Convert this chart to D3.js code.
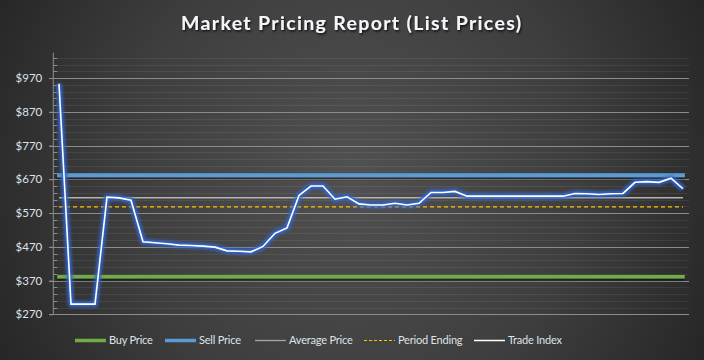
<!DOCTYPE html>
<html>
<head>
<meta charset="utf-8">
<script src="https://cdnjs.cloudflare.com/ajax/libs/d3/7.8.5/d3.min.js"></script>
<style>
  html, body { margin: 0; padding: 0; background: #333; }
  svg { display: block; }
</style>
</head>
<body>
<svg id="chart" width="704" height="360"></svg>
<script>
// ---------------- data ----------------
const title = "Market Pricing Report (List Prices)";
const tradeIndex = [953, 300, 300, 300, 617, 615, 608, 485, 482, 479,
                    475, 474, 472, 469, 458, 457, 455, 471, 510, 526,
                    622, 650, 650, 611, 618, 597, 594, 594, 599, 594,
                    599, 631, 631, 634, 620, 620, 620, 620, 620, 620,
                    620, 620, 620, 628, 627, 625, 627, 628, 661, 663,
                    661, 673, 642];
const buyPrice = 381;
const sellPrice = 682;
const averagePrice = 615;
const periodEnding = 588;
const yMajorTicks = [270, 370, 470, 570, 670, 770, 870, 970];
const yTickLabels = ["$270", "$370", "$470", "$570", "$670", "$770", "$870", "$970"];
const yDomain = [270, 1045];
const legendLabels = ["Buy Price", "Sell Price", "Average Price", "Period Ending", "Trade Index"];

// ---------------- layout ----------------
const W = 704, H = 360;
const svg = d3.select("#chart");
const defs = svg.append("defs");

const bg = defs.append("radialGradient").attr("id", "bg")
  .attr("gradientUnits", "userSpaceOnUse")
  .attr("cx", 352).attr("cy", 175).attr("r", 420);
bg.append("stop").attr("offset", 0).attr("stop-color", "#515151");
bg.append("stop").attr("offset", 0.55).attr("stop-color", "#3e3e3e");
bg.append("stop").attr("offset", 1).attr("stop-color", "#232323");

const glow = defs.append("filter").attr("id", "glow")
  .attr("filterUnits", "userSpaceOnUse")
  .attr("x", 0).attr("y", 0).attr("width", W).attr("height", H);
glow.append("feGaussianBlur").attr("stdDeviation", 1.6);

const shadow = defs.append("filter").attr("id", "shadow")
  .attr("filterUnits", "userSpaceOnUse")
  .attr("x", 0).attr("y", 0).attr("width", W).attr("height", H);
shadow.append("feDropShadow").attr("dx", 0).attr("dy", 2).attr("stdDeviation", 1)
  .attr("flood-color", "#000").attr("flood-opacity", 0.55);

const tshadow = defs.append("filter").attr("id", "tshadow")
  .attr("filterUnits", "userSpaceOnUse")
  .attr("x", 0).attr("y", 0).attr("width", W).attr("height", 60);
tshadow.append("feDropShadow").attr("dx", 1).attr("dy", 1.5).attr("stdDeviation", 0.8)
  .attr("flood-color", "#000").attr("flood-opacity", 0.8);

svg.append("rect").attr("width", W).attr("height", H).attr("fill", "url(#bg)");

const font = "Lato, 'Open Sans', sans-serif";

// title
svg.append("text")
  .attr("x", 351).attr("y", 30)
  .attr("text-anchor", "middle")
  .attr("font-family", font).attr("font-weight", "bold").attr("font-size", 19.5)
  .attr("fill", "#f4f6fa")
  .attr("textLength", 340).attr("lengthAdjust", "spacing")
  .attr("filter", "url(#tshadow)")
  .text(title);

// scales
const x = d3.scaleLinear().domain([0, tradeIndex.length - 1]).range([59, 683]);
const y = d3.scaleLinear().domain(yDomain).range([314.3, 52.7]);
const plotLeft = 53.3, plotRight = 689;

// minor gridlines
const minorTicks = d3.range(yDomain[0], yDomain[1], 20).filter(v => (v - 270) % 100 !== 0);
svg.append("g").selectAll("line").data(minorTicks).join("line")
  .attr("x1", plotLeft).attr("x2", plotRight)
  .attr("y1", d => Math.round(y(d)) + 0.5).attr("y2", d => Math.round(y(d)) + 0.5)
  .attr("stroke", "#ffffff").attr("stroke-opacity", 0.07).attr("stroke-width", 1);

// major gridlines
svg.append("g").selectAll("line").data(yMajorTicks.slice(1)).join("line")
  .attr("x1", 49).attr("x2", plotRight)
  .attr("y1", d => Math.round(y(d)) + 0.5).attr("y2", d => Math.round(y(d)) + 0.5)
  .attr("stroke", "#8c8c8c").attr("stroke-width", 1);

// y axis (minor ticks inside)
const yAxisG = svg.append("g").attr("transform", `translate(${plotLeft},0)`);
yAxisG.append("line")
  .attr("x1", 0).attr("x2", 0).attr("y1", y(yDomain[1])).attr("y2", y(yDomain[0]))
  .attr("stroke", "#8c8c8c");
yAxisG.selectAll("line.minor").data(minorTicks).join("line").attr("class", "minor")
  .attr("x1", 0).attr("x2", 4)
  .attr("y1", d => Math.round(y(d)) + 0.5).attr("y2", d => Math.round(y(d)) + 0.5)
  .attr("stroke", "#8c8c8c");

const yAxis = d3.axisLeft(y).tickValues(yMajorTicks)
  .tickFormat((d, i) => yTickLabels[i]).tickSize(4).tickPadding(7);
const yAx = svg.append("g").attr("transform", `translate(${plotLeft},0)`).call(yAxis);
yAx.select(".domain").remove();
yAx.selectAll(".tick line").attr("stroke", "#8c8c8c");
yAx.selectAll(".tick text").attr("fill", "#dde3ea")
  .attr("font-family", font).attr("font-size", 11.5);

// x axis line
svg.append("line")
  .attr("x1", 49).attr("x2", plotRight)
  .attr("y1", 314.5).attr("y2", 314.5)
  .attr("stroke", "#8c8c8c");

// horizontal reference series
const idx = d3.range(tradeIndex.length);
const flatLine = v => d3.line().x(i => x(i)).y(() => y(v))(idx);

svg.append("path").attr("d", flatLine(periodEnding))
  .attr("fill", "none").attr("stroke", "#ffc000").attr("stroke-width", 1.3)
  .attr("stroke-dasharray", "4,3");
svg.append("path").attr("d", flatLine(averagePrice))
  .attr("fill", "none").attr("stroke", "#b4b4b4").attr("stroke-width", 1.5);
svg.append("path").attr("d", flatLine(buyPrice))
  .attr("fill", "none").attr("stroke", "#70ad47").attr("stroke-width", 3.5)
  .attr("stroke-linecap", "square").attr("filter", "url(#shadow)");
svg.append("path").attr("d", flatLine(sellPrice))
  .attr("fill", "none").attr("stroke", "#5b9bd5").attr("stroke-width", 3.8)
  .attr("stroke-linecap", "square").attr("filter", "url(#shadow)");

// trade index with glow
const tradeLine = d3.line().x((d, i) => x(i)).y(d => y(d));
svg.append("path").attr("d", tradeLine(tradeIndex))
  .attr("fill", "none").attr("stroke", "#2f66d0").attr("stroke-width", 6)
  .attr("stroke-linejoin", "round").attr("stroke-opacity", 0.95)
  .attr("filter", "url(#glow)");
svg.append("path").attr("d", tradeLine(tradeIndex))
  .attr("fill", "none").attr("stroke", "#ffffff").attr("stroke-width", 1.6)
  .attr("stroke-linejoin", "miter");

// legend
const legendX = [75, 165, 255, 364, 474];
const legendStyles = [
  { color: "#70ad47", width: 3.5, dash: null },
  { color: "#5b9bd5", width: 3.5, dash: null },
  { color: "#a6a6a6", width: 1.3, dash: null },
  { color: "#ffc000", width: 1.2, dash: "3,2" },
  { color: "#ffffff", width: 1.5, dash: null }
];
const lg = svg.append("g");
legendLabels.forEach((lab, i) => {
  const g = lg.append("g").attr("transform", `translate(${legendX[i]},340.5)`);
  g.append("line").attr("x1", 0).attr("x2", 31).attr("y1", 0).attr("y2", 0)
    .attr("stroke", legendStyles[i].color).attr("stroke-width", legendStyles[i].width)
    .attr("stroke-dasharray", legendStyles[i].dash);
  g.append("text").attr("x", 34).attr("y", 0).attr("dy", "0.35em")
    .attr("font-family", font).attr("font-size", 11).attr("letter-spacing", -0.2)
    .attr("fill", "#dde3ea")
    .text(lab);
});
</script>
</body>
</html>
